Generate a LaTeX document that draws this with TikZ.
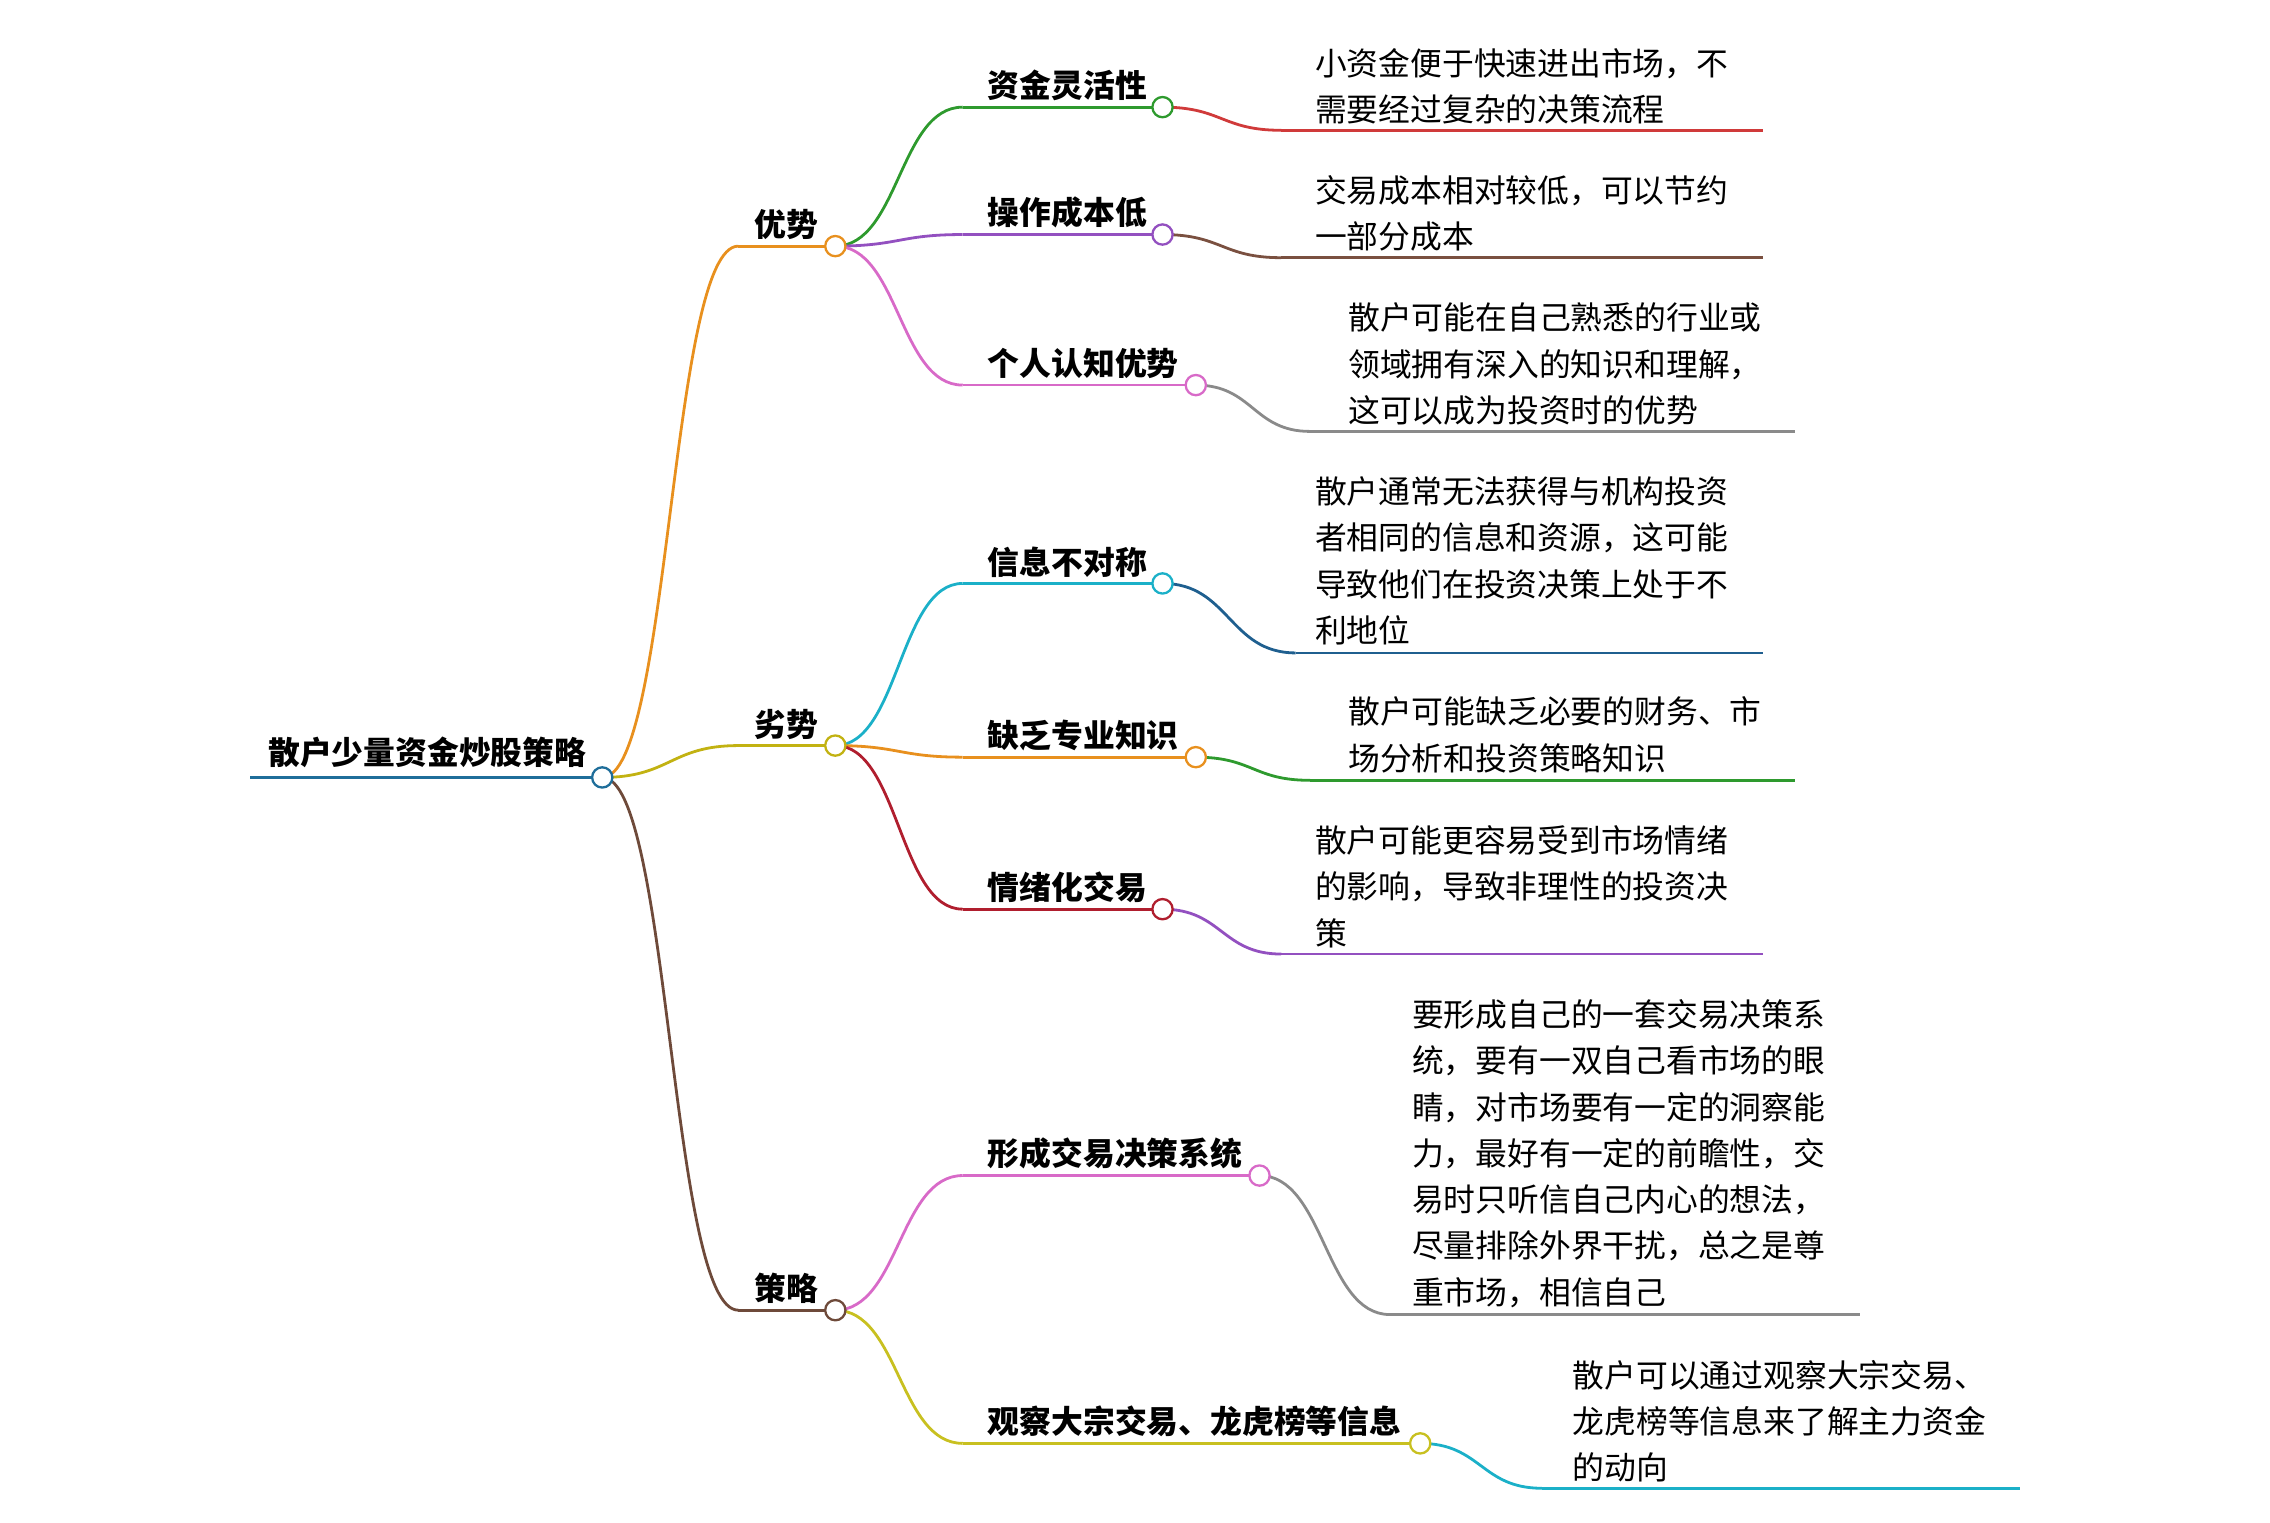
\documentclass[tikz,border=0pt]{standalone}
\usepackage{fontspec}
\setmainfont{Noto Sans CJK SC}
\definecolor{cblue}{HTML}{1F6E9A}
\definecolor{corange}{HTML}{E8901E}
\definecolor{colive}{HTML}{C2B212}
\definecolor{cbrown}{HTML}{6E4A3A}
\definecolor{cgreen}{HTML}{2E9A2E}
\definecolor{cred}{HTML}{D03A3A}
\definecolor{cpurple}{HTML}{9350C0}
\definecolor{cbrown2}{HTML}{7A5040}
\definecolor{cpink}{HTML}{D86AC8}
\definecolor{cgray}{HTML}{8A8A8A}
\definecolor{ccyan}{HTML}{1BB0C8}
\definecolor{cdblue}{HTML}{1F5F8F}
\definecolor{cdred}{HTML}{B01E2E}
\definecolor{cyel}{HTML}{C8C020}
\tikzset{
 lab/.style={font=\fontsize{12.5}{16}\selectfont\bfseries,anchor=south west,inner sep=0pt},
 para/.style={font=\fontsize{12.5}{18.2}\selectfont,anchor=north west,align=left,inner sep=0pt,yshift=-0.08cm},
 dot/.style={circle,draw=#1,fill=white,line width=0.9pt,inner sep=0pt,minimum size=0.28cm},
 ln/.style={line width=1.1pt}
}
\newcommand{\edge}[5]{%
 \draw[ln,#1] (#2,#3) .. controls ({(#2+#4)/2},#3) and ({(#2+#4)/2},#5) .. (#4,#5);}
\begin{document}
\begin{tikzpicture}[x=0.02cm,y=-0.02cm]
\useasboundingbox (0,0) rectangle (1568,1052);
\draw[ln,cblue] (173,537) -- (416,537);
\node[lab] (root) at (185,531) {散户少量资金炒股策略};
\edge{corange}{416}{537}{510}{170}\draw[ln,corange] (510,170)--(577,170);
\edge{colive}{416}{537}{510}{515}\draw[ln,colive] (510,515)--(577,515);
\edge{cbrown}{416}{537}{510}{905}\draw[ln,cbrown] (510,905)--(577,905);
\node[lab] (b1) at (521,166) {优势};
\node[lab] (b2) at (521,511) {劣势};
\node[lab] (b3) at (521,901) {策略};
\edge{cgreen}{577}{170}{665}{74}\draw[ln,cgreen] (665,74)--(803,74);
\node[lab] at (682,70) {资金灵活性};
\edge{cred}{803}{74}{885}{90}\draw[ln,cred] (885,90)--(1218,90);
\node[para] at (908,29) {小资金便于快速进出市场，不\\需要经过复杂的决策流程};
\edge{cpurple}{577}{170}{665}{162}\draw[ln,cpurple] (665,162)--(803,162);
\node[lab] at (682,158) {操作成本低};
\edge{cbrown2}{803}{162}{885}{178}\draw[ln,cbrown2] (885,178)--(1218,178);
\node[para] at (908,117) {交易成本相对较低，可以节约\\一部分成本};
\edge{cpink}{577}{170}{665}{266}\draw[ln,cpink] (665,266)--(826,266);
\node[lab] at (682,262) {个人认知优势};
\edge{cgray}{826}{266}{905}{298}\draw[ln,cgray] (905,298)--(1240,298);
\node[para] at (931,205) {散户可能在自己熟悉的行业或\\领域拥有深入的知识和理解，\\这可以成为投资时的优势};
\edge{ccyan}{577}{515}{665}{403}\draw[ln,ccyan] (665,403)--(803,403);
\node[lab] at (682,399) {信息不对称};
\edge{cdblue}{803}{403}{895}{451}\draw[ln,cdblue] (895,451)--(1218,451);
\node[para] at (908,325) {散户通常无法获得与机构投资\\者相同的信息和资源，这可能\\导致他们在投资决策上处于不\\利地位};
\edge{corange}{577}{515}{665}{523}\draw[ln,corange] (665,523)--(826,523);
\node[lab] at (682,519) {缺乏专业知识};
\edge{cgreen}{826}{523}{905}{539}\draw[ln,cgreen] (905,539)--(1240,539);
\node[para] at (931,477) {散户可能缺乏必要的财务、市\\场分析和投资策略知识};
\edge{cdred}{577}{515}{665}{628}\draw[ln,cdred] (665,628)--(803,628);
\node[lab] at (682,624) {情绪化交易};
\edge{cpurple}{803}{628}{885}{659}\draw[ln,cpurple] (885,659)--(1218,659);
\node[para] at (908,566) {散户可能更容易受到市场情绪\\的影响，导致非理性的投资决\\策};
\edge{cpink}{577}{905}{665}{812}\draw[ln,cpink] (665,812)--(870,812);
\node[lab] at (682,808) {形成交易决策系统};
\edge{cgray}{870}{812}{960}{908}\draw[ln,cgray] (960,908)--(1285,908);
\node[para] at (975,686) {要形成自己的一套交易决策系\\统，要有一双自己看市场的眼\\睛，对市场要有一定的洞察能\\力，最好有一定的前瞻性，交\\易时只听信自己内心的想法，\\尽量排除外界干扰，总之是尊\\重市场，相信自己};
\edge{cyel}{577}{905}{665}{997}\draw[ln,cyel] (665,997)--(981,997);
\node[lab] at (682,993) {观察大宗交易、龙虎榜等信息};
\edge{ccyan}{981}{997}{1065}{1028}\draw[ln,ccyan] (1065,1028)--(1395,1028);
\node[para] at (1086,935) {散户可以通过观察大宗交易、\\龙虎榜等信息来了解主力资金\\的动向};
\node[dot=cblue] (d0) at (416,537) {};
\node[dot=corange] (d1) at (577,170) {};
\node[dot=colive] (d2) at (577,515) {};
\node[dot=cbrown] (d3) at (577,905) {};
\node[dot=cgreen] at (803,74) {};
\node[dot=cpurple] at (803,162) {};
\node[dot=cpink] at (826,266) {};
\node[dot=ccyan] at (803,403) {};
\node[dot=corange] at (826,523) {};
\node[dot=cdred] at (803,628) {};
\node[dot=cpink] at (870,812) {};
\node[dot=cyel] at (981,997) {};
\end{tikzpicture}
\end{document}
